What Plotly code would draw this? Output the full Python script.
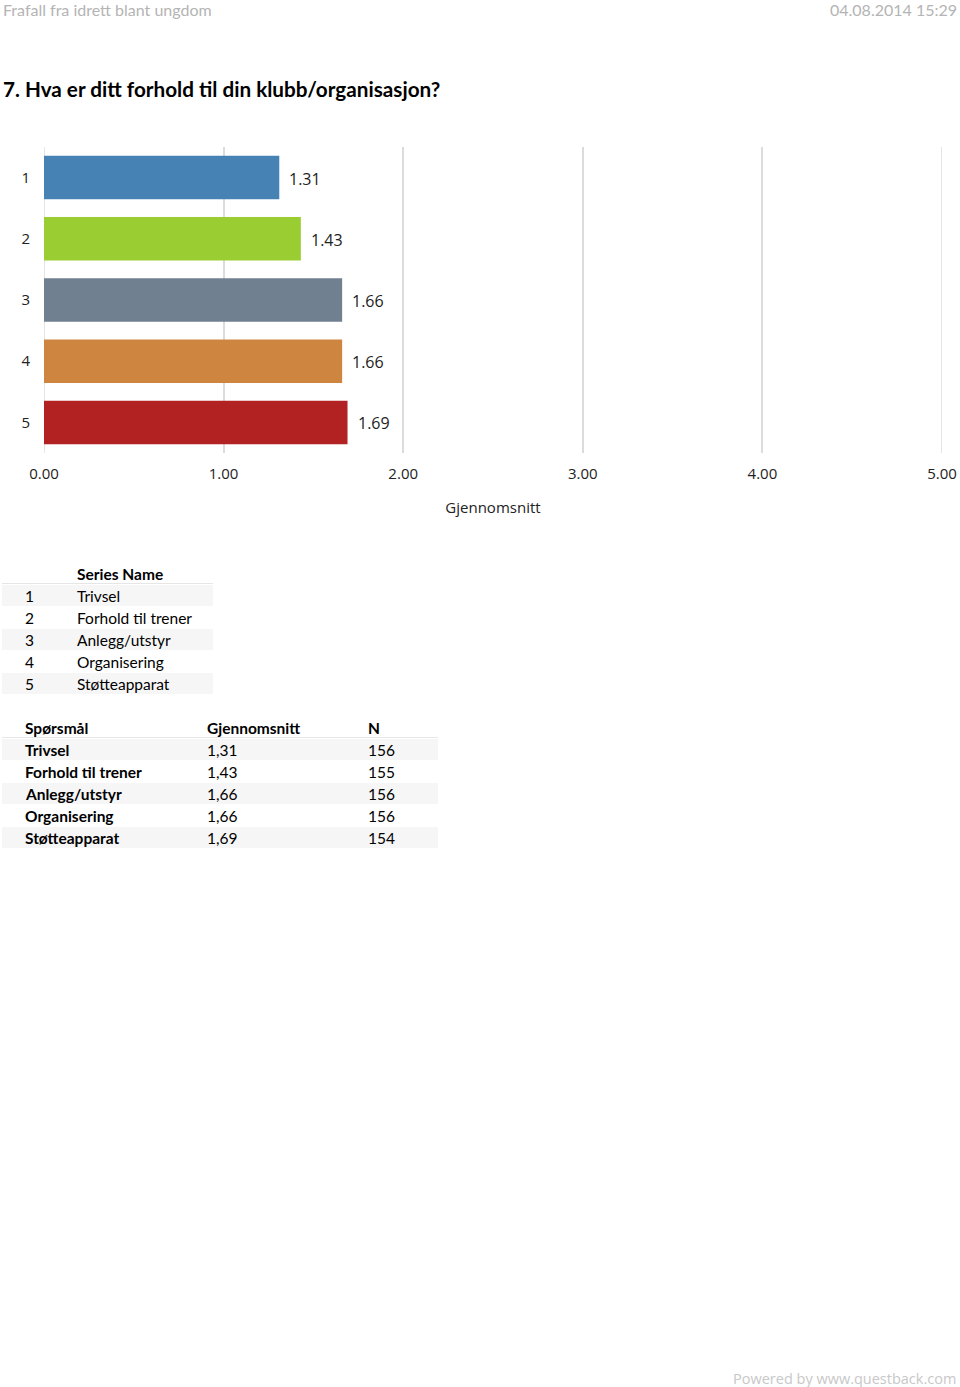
import plotly.graph_objects as go

categories = ["1", "2", "3", "4", "5"]
series_names = ["Trivsel", "Forhold til trener", "Anlegg/utstyr", "Organisering", "Støtteapparat"]
means = [1.31, 1.43, 1.66, 1.66, 1.69]
n_values = [156, 155, 156, 156, 154]
bar_colors = ["#4682B4", "#9ACD32", "#708090", "#CD853F", "#B22222"]
x_ticks = [0, 1, 2, 3, 4, 5]
x_tick_labels = ["0.00", "1.00", "2.00", "3.00", "4.00", "5.00"]

W, H = 960, 1387
L, R, T, B = 44, 18, 147, 934
PW, PH = W - L - R, H - T - B

def X(px):
    return (px - L) / PW

def Y(py):
    return (H - B - py) / PH

FONT = "Lato"
CHART_FONT = "Open Sans"
GRID = "#dcdcdc"

fig = go.Figure()
fig.add_trace(go.Bar(
    y=categories, x=means, orientation="h",
    marker=dict(color=bar_colors, line=dict(width=0)),
    width=0.71, showlegend=False, hoverinfo="skip",
))

ann = []
for i, v in enumerate(means):
    ann.append(dict(x=v, y=i, xref="x", yref="y", text=f"{v:.2f}", showarrow=False,
                    xanchor="left", yanchor="middle", xshift=8, yshift=-1,
                    font=dict(family=CHART_FONT, size=16, color="#222")))

def text(px, py, s, size=15.5, color="#000", bold=False, anchor="left", family=FONT):
    ann.append(dict(x=X(px), y=Y(py), xref="paper", yref="paper",
                    text=f"<b>{s}</b>" if bold else s, showarrow=False,
                    xanchor=anchor, yanchor="middle",
                    font=dict(family=family, size=size, color=color)))

text(1, 9, "Frafall fra idrett blant ungdom", size=16, color="#b4b4b4")
text(959, 9, "04.08.2014 15:29", size=16, color="#b4b4b4", anchor="right")
text(1, 89, "7. Hva er ditt forhold til din klubb/organisasjon?", size=20.7, bold=True)
text(958, 1378, "Powered by www.questback.com", size=14.5, color="#c8c8c8", anchor="right", family=CHART_FONT)

shapes = []
# edge gridlines (plotly hides gridlines lying on the plot boundary)
for xv in (x_ticks[0], x_ticks[-1]):
    shapes.append(dict(type="line", xref="x", yref="paper", x0=xv, x1=xv, y0=0, y1=1,
                       line=dict(color=GRID, width=1.5), layer="below"))

def rect(x0, y0, x1, y1, color):
    shapes.append(dict(type="rect", xref="paper", yref="paper", x0=X(x0), x1=X(x1),
                       y0=Y(y1), y1=Y(y0), fillcolor=color, line=dict(width=0), layer="below"))

def hline(x0, x1, y, color="#e6e6e6"):
    shapes.append(dict(type="line", xref="paper", yref="paper", x0=X(x0), x1=X(x1),
                       y0=Y(y), y1=Y(y), line=dict(color=color, width=1)))

ROW = 22
t1_head = 574
text(75, t1_head, "Series Name", bold=True)
hline(2, 213, t1_head + 9.5)
for i, (c, name) in enumerate(zip(categories, series_names)):
    yc = t1_head + ROW * (i + 1)
    if i % 2 == 0:
        rect(2, yc - 11, 213, yc + 10, "#f6f6f6")
    text(23, yc, c)
    text(75, yc, name)

t2_head = 728
text(23, t2_head, "Spørsmål", bold=True)
text(205, t2_head, "Gjennomsnitt", bold=True)
text(366, t2_head, "N", bold=True)
hline(2, 438, t2_head + 9.5)
for i, (name, m, n) in enumerate(zip(series_names, means, n_values)):
    yc = t2_head + ROW * (i + 1)
    if i % 2 == 0:
        rect(2, yc - 11, 438, yc + 10, "#f6f6f6")
    text(23, yc, name, bold=True)
    text(205, yc, f"{m:.2f}".replace(".", ","))
    text(366, yc, str(n))

fig.update_layout(
    width=W, height=H, autosize=False,
    margin=dict(l=L, r=R, t=T, b=B),
    paper_bgcolor="white", plot_bgcolor="white",
    annotations=ann, shapes=shapes,
    xaxis=dict(range=[0, 5], tickvals=x_ticks, ticktext=x_tick_labels, automargin=False,
               showgrid=True, gridcolor=GRID, gridwidth=1.5, zeroline=False,
               showline=False, ticks="outside", ticklen=7, tickcolor="rgba(0,0,0,0)",
               tickfont=dict(family=CHART_FONT, size=15, color="#222"),
               title=dict(text="Gjennomsnitt", standoff=20,
                          font=dict(family=CHART_FONT, size=15, color="#222")),
               fixedrange=True),
    yaxis=dict(type="category", range=[4.5, -0.5], autorange=False, automargin=False,
               showgrid=False, showline=False,
               ticks="outside", ticklen=10, tickcolor="rgba(0,0,0,0)",
               tickfont=dict(family=CHART_FONT, size=15, color="#222"), fixedrange=True),
)
fig.write_html("out.html", config={"responsive": False})
